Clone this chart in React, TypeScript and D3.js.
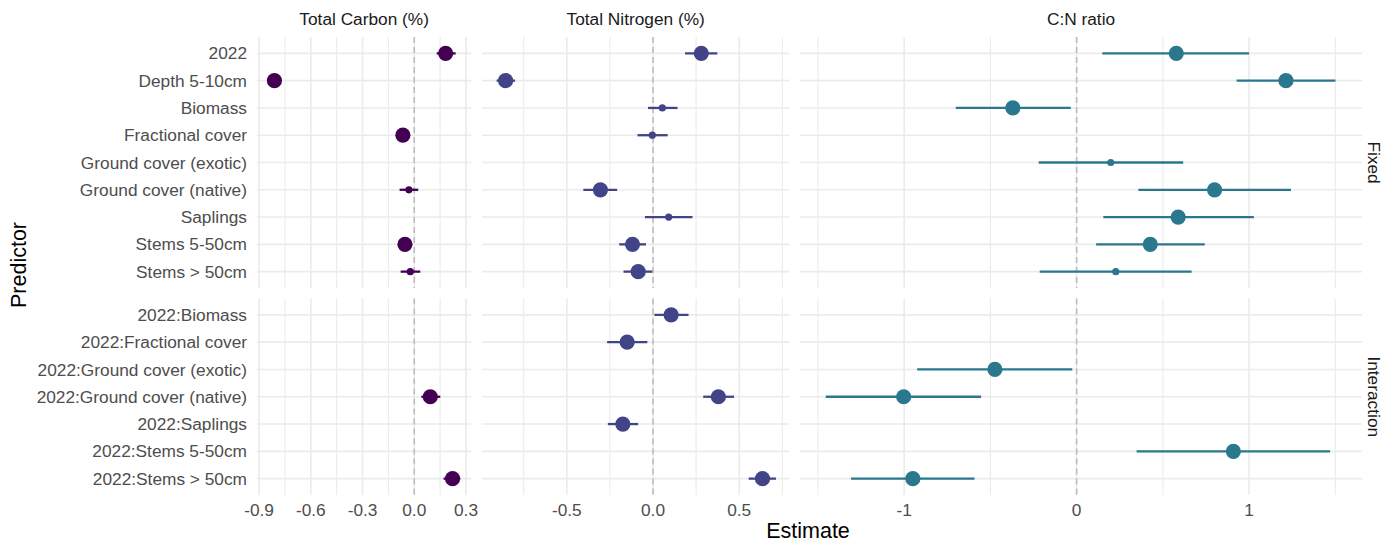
import React from "react";
import * as d3 from "d3";

const fixedTerms = [
  "2022",
  "Depth 5-10cm",
  "Biomass",
  "Fractional cover",
  "Ground cover (exotic)",
  "Ground cover (native)",
  "Saplings",
  "Stems 5-50cm",
  "Stems > 50cm",
];
const interactionTerms = [
  "2022:Biomass",
  "2022:Fractional cover",
  "2022:Ground cover (exotic)",
  "2022:Ground cover (native)",
  "2022:Saplings",
  "2022:Stems 5-50cm",
  "2022:Stems > 50cm",
];

const responses = ["Total Carbon (%)", "Total Nitrogen (%)", "C:N ratio"];
const responseColors = ["#440154", "#414487", "#2A788E"];

// [term, estimate, lower, upper]
type Row = [string, number, number, number];

const carbonRows: Row[] = [
  ["2022", 0.182, 0.13, 0.24],
  ["Depth 5-10cm", -0.811, -0.84, -0.78],
  ["Fractional cover", -0.066, -0.09, -0.04],
  ["Ground cover (native)", -0.031, -0.085, 0.023],
  ["Stems 5-50cm", -0.054, -0.08, -0.03],
  ["Stems > 50cm", -0.023, -0.079, 0.035],
  ["2022:Ground cover (native)", 0.093, 0.041, 0.151],
  ["2022:Stems > 50cm", 0.222, 0.17, 0.267],
];

const nitrogenRows: Row[] = [
  ["2022", 0.28, 0.186, 0.373],
  ["Depth 5-10cm", -0.855, -0.907, -0.8],
  ["Biomass", 0.054, -0.029, 0.142],
  ["Fractional cover", -0.004, -0.09, 0.085],
  ["Ground cover (native)", -0.305, -0.404, -0.208],
  ["Saplings", 0.091, -0.047, 0.229],
  ["Stems 5-50cm", -0.119, -0.196, -0.041],
  ["Stems > 50cm", -0.086, -0.171, -0.004],
  ["2022:Biomass", 0.105, 0.008, 0.206],
  ["2022:Fractional cover", -0.15, -0.266, -0.033],
  ["2022:Ground cover (native)", 0.379, 0.291, 0.47],
  ["2022:Saplings", -0.175, -0.262, -0.086],
  ["2022:Stems > 50cm", 0.635, 0.555, 0.713],
];

const cnRows: Row[] = [
  ["2022", 0.578, 0.149, 1.0],
  ["Depth 5-10cm", 1.214, 0.928, 1.501],
  ["Biomass", -0.37, -0.701, -0.034],
  ["Ground cover (exotic)", 0.198, -0.22, 0.618],
  ["Ground cover (native)", 0.8, 0.358, 1.243],
  ["Saplings", 0.589, 0.155, 1.028],
  ["Stems 5-50cm", 0.427, 0.113, 0.743],
  ["Stems > 50cm", 0.227, -0.214, 0.667],
  ["2022:Ground cover (exotic)", -0.474, -0.925, -0.025],
  ["2022:Ground cover (native)", -1.003, -1.455, -0.554],
  ["2022:Stems 5-50cm", 0.909, 0.348, 1.47],
  ["2022:Stems > 50cm", -0.95, -1.308, -0.592],
];

const panelDomains: [number, number][] = [
  [-0.912, 0.331],
  [-0.991, 0.79],
  [-1.604, 1.655],
];
const majorTicks = [
  [-0.9, -0.6, -0.3, 0.0, 0.3],
  [-0.5, 0.0, 0.5],
  [-1, 0, 1],
];
const minorTicks = [
  [-0.75, -0.45, -0.15, 0.15],
  [-0.75, -0.25, 0.25, 0.75],
  [-1.5, -0.5, 0.5, 1.5],
];
const tickDigits = [1, 1, 0];
const groupLabels = ["Fixed", "Interaction"];

const FONT = "'Liberation Sans', Arial, Helvetica, sans-serif";

export default function App() {
  const W = 1390;
  const H = 544;
  const left = 257;
  const right = 1362;
  const gap = 10.8;
  const spans = panelDomains.map((d) => d[1] - d[0]);
  const pxPerUnit = (right - left - 2 * gap) / d3.sum(spans);
  let cursor = left;
  const xScales = panelDomains.map((dom, i) => {
    const w = spans[i] * pxPerUnit;
    const s = d3.scaleLinear().domain(dom).range([cursor, cursor + w]);
    cursor += w + gap;
    return s;
  });
  const fmt = (v: number, digits: number) => v.toFixed(digits).replace("−", "-");

  const rowGroups = [
    { terms: fixedTerms, range: [37, 288] as [number, number] },
    { terms: interactionTerms, range: [298.5, 495] as [number, number] },
  ];
  const yScales = rowGroups.map((g) =>
    d3.scalePoint<string>().domain(g.terms).range(g.range).padding(0.6)
  );
  const dataSets = [carbonRows, nitrogenRows, cnRows];

  const findY = (term: string) => {
    for (let g = 0; g < rowGroups.length; g++) {
      const y = yScales[g](term);
      if (y !== undefined) return y;
    }
    return 0;
  };

  const gridColor = "#EBEBEB";
  const tickColor = "#4D4D4D";
  const fs = 17.3;

  return (
    <svg
      width={W}
      height={H}
      style={{ position: "absolute", left: 0, top: 0, background: "#fff" }}
      fontFamily={FONT}
    >
      {xScales.map((xs, pi) =>
        rowGroups.map((g, gi) => {
          const [y0, y1] = g.range;
          const [x0, x1] = xs.range();
          return (
            <g key={`p${pi}-${gi}`}>
              {minorTicks[pi].map((t) => (
                <line key={`mi${t}`} x1={xs(t)} x2={xs(t)} y1={y0} y2={y1} stroke={gridColor} strokeWidth={1.1} />
              ))}
              {majorTicks[pi].map((t) => (
                <line key={`ma${t}`} x1={xs(t)} x2={xs(t)} y1={y0} y2={y1} stroke={gridColor} strokeWidth={1.6} />
              ))}
              {g.terms.map((term) => (
                <line
                  key={`h${term}`}
                  x1={x0}
                  x2={x1}
                  y1={yScales[gi](term)}
                  y2={yScales[gi](term)}
                  stroke={gridColor}
                  strokeWidth={1.6}
                />
              ))}
              <line
                x1={xs(0)}
                x2={xs(0)}
                y1={y0}
                y2={y1}
                stroke="#BEBEBE"
                strokeWidth={1.6}
                strokeDasharray="6,4"
              />
            </g>
          );
        })
      )}

      {dataSets.map((rows, pi) => {
        const xs = xScales[pi];
        const col = responseColors[pi];
        return (
          <g key={`d${pi}`}>
            {rows.map(([term, est, lo, hi]) => {
              const y = findY(term);
              const sig = lo > 0 || hi < 0;
              return (
                <g key={term}>
                  <line x1={xs(lo)} x2={xs(hi)} y1={y} y2={y} stroke={col} strokeWidth={2.3} />
                  <circle cx={xs(est)} cy={y} r={sig ? 7.6 : 3.6} fill={col} />
                </g>
              );
            })}
          </g>
        );
      })}

      {rowGroups.map((g, gi) =>
        g.terms.map((term) => (
          <text
            key={`yl${term}`}
            x={247}
            y={yScales[gi](term)}
            dy="0.35em"
            textAnchor="end"
            fontSize={fs}
            fill={tickColor}
          >
            {term}
          </text>
        ))
      )}

      {xScales.map((xs, pi) =>
        majorTicks[pi].map((t) => (
          <text
            key={`xt${pi}-${t}`}
            x={xs(t)}
            y={510}
            dy="0.35em"
            textAnchor="middle"
            fontSize={fs}
            fill={tickColor}
          >
            {fmt(t, tickDigits[pi])}
          </text>
        ))
      )}

      {xScales.map((xs, pi) => {
        const [a, b] = xs.range();
        return (
          <text
            key={`st${pi}`}
            x={(a + b) / 2}
            y={19}
            dy="0.35em"
            textAnchor="middle"
            fontSize={fs}
            fill="#1A1A1A"
          >
            {responses[pi]}
          </text>
        );
      })}

      {rowGroups.map((g, gi) => {
        const cy = (g.range[0] + g.range[1]) / 2;
        return (
          <text
            key={`rs${gi}`}
            transform={`translate(1374,${cy}) rotate(90)`}
            dy="0.35em"
            textAnchor="middle"
            fontSize={fs}
            fill="#1A1A1A"
          >
            {groupLabels[gi]}
          </text>
        );
      })}

      <text x={808} y={538} textAnchor="middle" fontSize={21.5} fill="#000">
        Estimate
      </text>
      <text transform={`translate(18,265) rotate(-90)`} dy="0.35em" textAnchor="middle" fontSize={21.5} fill="#000">
        Predictor
      </text>
    </svg>
  );
}
